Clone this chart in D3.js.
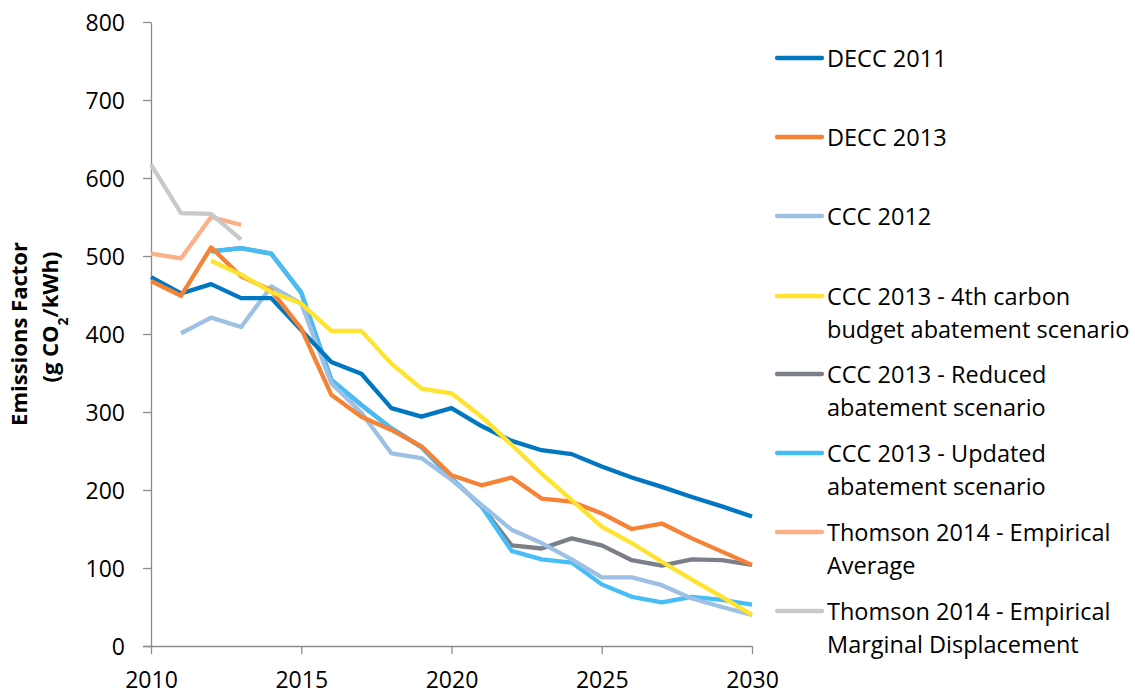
<!DOCTYPE html>
<html>
<head>
<meta charset="utf-8">
<script src="https://cdn.jsdelivr.net/npm/d3@7"></script>
<style>
  body { margin: 0; background: #fff; }
  text { font-family: "Open Sans", "Noto Sans", sans-serif; fill: #000; }
</style>
</head>
<body>
<svg id="chart" width="1135" height="695"></svg>
<script>
// 年份
var years = d3.range(2010, 2031);

// 各情景数据 (g CO2/kWh)，null 表示无数据
var decc2011 = [473, 452, 464, 446, 446, 405, 364, 349, 305, 294, 305, 282, 263, 251, 246, 230, 216, 204, 191, 179, 166];
var decc2013 = [468, 449, 511, 474, 456, 407, 322, 294, 277, 256, 219, 206, 216, 189, 185, 170, 150, 157, 138, 121, 104];
var ccc2012 = [null, 401, 421, 409, 461, 439, 337, 299, 247, 241, 213, 181, 149, 132, 111, 88, 88, 78, 61, 50, 40];
var ccc2013Fourth = [null, null, 494, 476, 454, 439, 404, 404, 362, 330, 324, 294, 258, 221, 187, 153, 132, 108, 85, 63, 40];
var ccc2013Reduced = [null, null, 506, 510, 503, 453, 341, 309, 279, 255, 215, 179, 129, 125, 138, 129, 110, 103, 111, 110, 104];
var ccc2013Updated = [null, null, 506, 510, 503, 453, 341, 309, 279, 255, 215, 179, 122, 111, 107, 79, 63, 56, 63, 59, 53];
var thomsonAvg = [503, 497, 550, 540];
var thomsonMarginal = [617, 555, 554, 521];

var seriesNames = ["DECC 2011", "DECC 2013", "CCC 2012",
  ["CCC 2013 - 4th carbon", "budget abatement scenario"],
  ["CCC 2013 - Reduced", "abatement scenario"],
  ["CCC 2013 - Updated", "abatement scenario"],
  ["Thomson 2014 - Empirical", "Average"],
  ["Thomson 2014 - Empirical", "Marginal Displacement"]];
var seriesValues = [decc2011, decc2013, ccc2012, ccc2013Fourth, ccc2013Reduced, ccc2013Updated, thomsonAvg, thomsonMarginal];
var seriesColors = ["#0077c0", "#f58235", "#9dc0e4", "#ffe32e", "#7b8088", "#46bdf6", "#fbb087", "#c9c9c9"];

var yTicks = [0, 100, 200, 300, 400, 500, 600, 700, 800];
var xTicks = [2010, 2015, 2020, 2025, 2030];

var svg = d3.select("#chart");

var x = d3.scaleLinear().domain([2010, 2030]).range([151, 752]);
var y = d3.scaleLinear().domain([0, 800]).range([646, 22]);

// 坐标轴
var yAxis = d3.axisLeft(y).tickValues(yTicks).tickSize(8).tickSizeOuter(0).tickPadding(18);
var gy = svg.append("g").attr("transform", "translate(151,0)").call(yAxis);
gy.selectAll("text").style("font-size", "23px").attr("dy", "0.36em");

var xAxis = d3.axisBottom(x).tickValues(xTicks).tickFormat(d3.format("d")).tickSize(8).tickSizeOuter(0).tickPadding(18);
var gx = svg.append("g").attr("transform", "translate(0,646)").call(xAxis);
gx.selectAll("text").style("font-size", "23px");
gx.select(".domain").attr("d", "M143,0.5H752");

svg.selectAll(".domain, .tick line").attr("stroke", "#8c8c8c").attr("stroke-width", 1.3);

// 折线
var line = d3.line()
  .defined(function(d) { return d != null; })
  .x(function(d, i) { return x(years[i]); })
  .y(function(d) { return y(d); });

var drawOrder = [4, 5, 2, 0, 1, 3, 6, 7];
drawOrder.forEach(function(k) {
  svg.append("path")
    .attr("d", line(seriesValues[k]))
    .attr("fill", "none")
    .attr("stroke", seriesColors[k])
    .attr("stroke-width", 4.3)
    .attr("stroke-linejoin", "round");
});

// 纵轴标题
svg.append("text")
  .attr("transform", "translate(27,334) rotate(-90)")
  .attr("text-anchor", "middle")
  .style("font-size", "22px")
  .style("font-weight", "bold")
  .text("Emissions Factor");
var t2 = svg.append("text")
  .attr("transform", "translate(58,317) rotate(-90)")
  .attr("text-anchor", "middle")
  .style("font-size", "22px")
  .style("font-weight", "bold");
t2.append("tspan").text("(g CO");
t2.append("tspan").attr("baseline-shift", "sub").style("font-size", "14px").text("2");
t2.append("tspan").text("/kWh)");

// 图例
var legendY = [58, 137, 216, 296, 374, 453, 532, 611];
seriesNames.forEach(function(name, i) {
  var g = svg.append("g").attr("transform", "translate(0," + legendY[i] + ")");
  g.append("line").attr("x1", 777).attr("x2", 822).attr("y1", 0).attr("y2", 0)
    .attr("stroke", seriesColors[i]).attr("stroke-width", 4.3).attr("stroke-linecap", "round");
  var lines = Array.isArray(name) ? name : [name];
  var t = g.append("text").attr("x", 827).attr("y", 8.5).style("font-size", "23.5px");
  lines.forEach(function(s, j) {
    t.append("tspan").attr("x", 827).attr("dy", j === 0 ? 0 : 33).text(s);
  });
});
</script>
</body>
</html>
